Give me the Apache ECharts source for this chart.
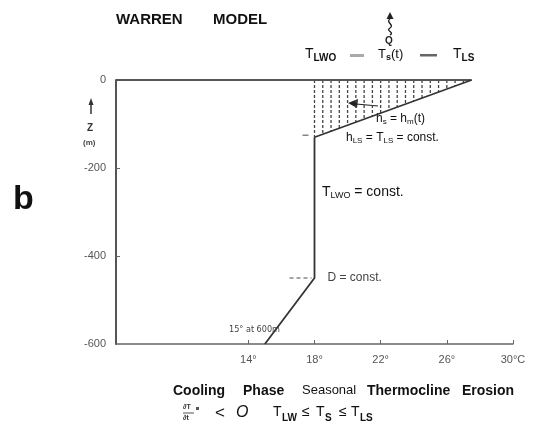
<!DOCTYPE html>
<html>
<head>
<meta charset="utf-8">
<script src="https://cdn.jsdelivr.net/npm/echarts@6/dist/echarts.min.js"></script>
<style>
  html, body { margin: 0; padding: 0; background: #fff; }
  #chart { width: 537px; height: 445px; }
</style>
</head>
<body>
<div id="chart"></div>
<script>
// Temperature axis (°C) and depth axis (m)
const xTicks = [14, 18, 22, 26, 30];
const yTicks = [0, -200, -400, -600];

// Temperature profile below the mixed layer: [T, z]
const profileT = [18, 18, 15];
const profileZ = [-130, -450, -600];

// Seasonal thermocline: from the layer base up to the surface temperature T_LS
const thermoT = [18, 27.5];
const thermoZ = [-130, 0];

// Sea surface line
const surfaceT = [6, 27.5];
const surfaceZ = [0, 0];

// Hatching inside the mixed layer (temperatures of the dashed verticals)
const hatchT = [18, 18.5, 19, 19.5, 20, 20.5, 21, 21.5, 22, 22.5, 23, 23.5, 24, 24.5, 25, 25.5, 26, 26.5, 27];

const FONT = "'Liberation Sans', Arial, sans-serif";
const NARROW = "'Liberation Sans Narrow', 'DejaVu Sans Condensed', 'Liberation Sans', sans-serif";
const INK = '#333';

function pairs(xs, ys) { return xs.map((x, i) => [x, ys[i]]); }

// depth of the thermocline line at temperature t
function thermoDepth(t) {
  const [t0, t1] = thermoT, [z0, z1] = thermoZ;
  return z0 + (z1 - z0) * (t - t0) / (t1 - t0);
}

const series = [];
hatchT.forEach(t => {
  series.push({
    type: 'line', silent: true, symbol: 'none', animation: false,
    data: [[t, 0], [t, thermoDepth(t)]],
    lineStyle: { color: '#444', width: 1.3, type: [3, 2] }
  });
});
series.push({
  type: 'line', symbol: 'none', animation: false,
  data: pairs(surfaceT, surfaceZ),
  lineStyle: { color: '#555', width: 2 }
});
series.push({
  type: 'line', symbol: 'none', animation: false,
  data: pairs(thermoT, thermoZ),
  lineStyle: { color: INK, width: 1.6 }
});
series.push({
  type: 'line', symbol: 'none', animation: false,
  data: pairs(profileT, profileZ),
  lineStyle: { color: INK, width: 1.8 }
});

const chart = echarts.init(document.getElementById('chart'), null, { renderer: 'canvas' });

chart.setOption({
  animation: false,
  grid: { left: 116, top: 80, right: 24, bottom: 101, containLabel: false },
  xAxis: {
    type: 'value', min: 6, max: 30, interval: 4,
    splitLine: { show: false },
    axisLine: { show: true, onZero: false, lineStyle: { color: '#666', width: 1.5 } },
    axisTick: { show: true, inside: true, length: 4, customValues: xTicks, lineStyle: { color: '#666' } },
    axisLabel: {
      customValues: xTicks, margin: 10, color: '#555', fontFamily: FONT, fontSize: 11,
      formatter: v => v === 30 ? '30°C' : v + '°'
    }
  },
  yAxis: {
    type: 'value', min: -600, max: 0, interval: 200,
    splitLine: { show: false },
    axisLine: { show: true, onZero: false, lineStyle: { color: '#555', width: 2 } },
    axisTick: { show: true, inside: true, length: 4, customValues: [-200, -400], lineStyle: { color: '#666' } },
    axisLabel: { customValues: yTicks, margin: 10, color: '#555', fontFamily: FONT, fontSize: 11 }
  },
  series: series
});

// annotations
const px = (t, z) => chart.convertToPixel({ xAxisIndex: 0, yAxisIndex: 0 }, [t, z]);
const base = px(18, -130);
const knee = px(18, -450);
const g = [];

function text(x, y, str, size, weight, extra) {
  g.push({
    type: 'text', x: x, y: y,
    style: Object.assign({ text: str, fontFamily: FONT, fontSize: size, fontWeight: weight || 'normal', fill: '#222' }, extra || {})
  });
}
function richStyles(main, small, drop, bold) {
  return {
    t: { fontFamily: FONT, fontSize: main, fill: '#111' },
    s: { fontFamily: FONT, fontSize: small, fontWeight: bold ? 'bold' : 'normal', fill: '#111', padding: [drop, 0, 0, 0] }
  };
}

// title
text(116, 12, 'WARREN', 15, 'bold', { fill: '#111' });
text(213, 12, 'MODEL', 15, 'bold', { fill: '#111' });
// panel letter
text(13, 183, 'b', 34, 'bold', { fill: '#111' });

// heat flux symbol: wavy arrow and Q
g.push({ type: 'bezierCurve', shape: { x1: 390, y1: 19, x2: 390, y2: 28, cpx1: 385, cpy1: 22, cpx2: 395, cpy2: 25 }, style: { stroke: '#222', lineWidth: 1.4, fill: null } });
g.push({ type: 'bezierCurve', shape: { x1: 390, y1: 28, x2: 390, y2: 35, cpx1: 385, cpy1: 31, cpx2: 395, cpy2: 32 }, style: { stroke: '#222', lineWidth: 1.4, fill: null } });
g.push({ type: 'polygon', shape: { points: [[390, 12], [386.5, 19], [393.5, 19]] }, style: { fill: '#222' } });
text(385, 36, 'Q', 10, 'bold');

// header relation T_LWO — T_S(t) — T_LS
text(305, 46, '{t|T}{s|LWO}', 14, 'normal', { rich: richStyles(14, 10, 7, true) });
g.push({ type: 'rect', shape: { x: 350, y: 54, width: 14, height: 3 }, style: { fill: '#aaa' } });
text(378, 46, '{t|T}{s|s}{t|(t)}', 13, 'normal', { rich: richStyles(13, 9, 7, true) });
g.push({ type: 'rect', shape: { x: 420, y: 54, width: 17, height: 2.5 }, style: { fill: '#666' } });
text(453, 46, '{t|T}{s|LS}', 14, 'normal', { rich: richStyles(14, 10, 7, true) });

// depth axis name
g.push({ type: 'line', shape: { x1: 91, y1: 103, x2: 91, y2: 114 }, style: { stroke: '#333', lineWidth: 1.5 } });
g.push({ type: 'polygon', shape: { points: [[91, 98], [88.5, 105], [93.5, 105]] }, style: { fill: '#333' } });
text(87, 123, 'Z', 10, 'bold', { fill: '#333' });
text(83, 139, '(m)', 8, 'bold', { fill: '#444' });

// mixed-layer annotations
g.push({ type: 'line', shape: { x1: 378, y1: 106, x2: 356, y2: 104 }, style: { stroke: '#222', lineWidth: 1.2 } });
g.push({ type: 'polygon', shape: { points: [[348, 103], [358, 99], [357, 108]] }, style: { fill: '#222' } });
text(376, 112, '{t|h}{s|s}{t| = h}{s|m}{t|(t)}', 12, 'normal', { rich: richStyles(12, 8, 6, false) });
text(346, 131, '{t|h}{s|LS}{t| = T}{s|LS}{t| = const.}', 12, 'normal', { rich: richStyles(12, 8, 6, false) });
g.push({ type: 'line', shape: { x1: base[0] - 12, y1: base[1] - 2, x2: base[0] - 6, y2: base[1] - 2 }, style: { stroke: '#666', lineWidth: 1.2 } });

// layer below
text(322, 184, '{t|T}{s|LWO}{t| = const.}', 14, 'normal', { rich: richStyles(14, 9, 7, false) });
g.push({ type: 'line', shape: { x1: knee[0] - 25, y1: knee[1], x2: knee[0] - 3, y2: knee[1] }, style: { stroke: '#888', lineWidth: 1.5, lineDash: [4, 3] } });
text(knee[0] + 13, knee[1] - 6, 'D = const.', 12, 'normal', { fill: '#444' });
text(229, 325, '15° at 600m', 9, 'normal', { fill: '#444', fontFamily: NARROW });

// season caption
text(173, 384, 'Cooling', 14, 'bold', { fill: '#111' });
text(243, 384, 'Phase', 14, 'bold', { fill: '#111' });
text(302, 384, 'Seasonal', 13, 'normal', { fill: '#111' });
text(367, 384, 'Thermocline', 14, 'bold', { fill: '#111' });
text(462, 384, 'Erosion', 14, 'bold', { fill: '#111' });

// condition line
text(183, 404, '∂T', 7, 'bold', { fill: '#333' });
g.push({ type: 'line', shape: { x1: 183, y1: 413, x2: 194, y2: 413 }, style: { stroke: '#555', lineWidth: 1 } });
text(183, 415, '∂t', 7, 'bold', { fill: '#333' });
g.push({ type: 'rect', shape: { x: 196, y: 407, width: 3, height: 3 }, style: { fill: '#555' } });
text(215, 405, '<', 17, 'normal', { fill: '#111' });
text(236, 405, 'O', 16, 'normal', { fill: '#111', fontStyle: 'italic' });
const T = (x) => text(x, 405, 'T', 14, 'normal', { fill: '#111' });
const S = (x, s) => text(x, 413, s, 10, 'bold', { fill: '#111' });
const LE = (x) => text(x, 405, '≤', 14, 'normal', { fill: '#111' });
T(273); S(282, 'LW'); LE(302);
T(316); S(325, 'S'); LE(339);
T(351); S(360, 'LS');

chart.setOption({ graphic: g });
</script>
</body>
</html>
